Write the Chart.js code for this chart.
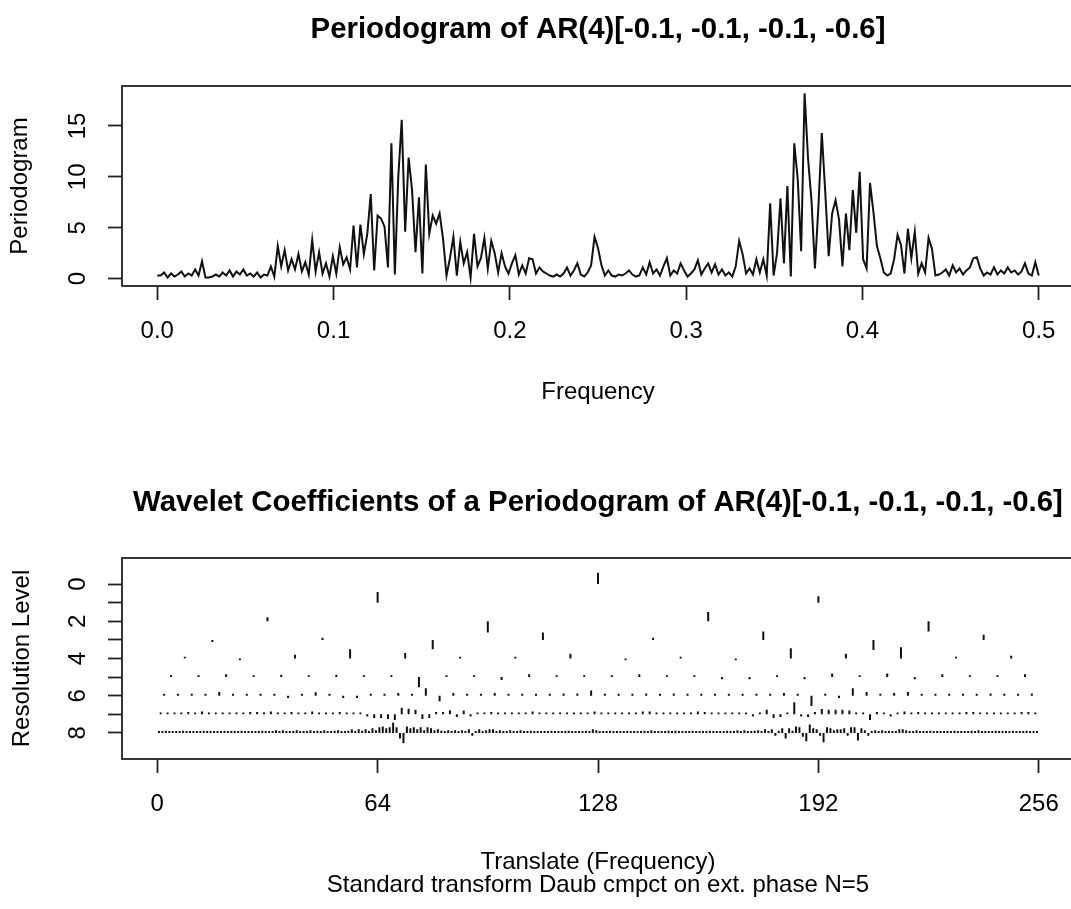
<!DOCTYPE html>
<html><head><meta charset="utf-8">
<script src="https://cdn.jsdelivr.net/npm/chart.js@4.4.0/dist/chart.umd.min.js"></script>
<style>
html,body{margin:0;padding:0;background:#fff;overflow:hidden;width:1071px;height:909px;}
#top{position:absolute;left:0;top:0;width:1080px;height:450px;}
#bot{position:absolute;left:0;top:450px;width:1080px;height:459px;}
</style></head><body>
<div id="top"><canvas id="c1"></canvas></div>
<div id="bot"><canvas id="c2"></canvas></div>
<script>
// ---- Periodogram (frequency 0 .. 0.5, step 1/512) ----
const periodogram = [0.3,
0.3,0.6,0.1,0.5,0.2,0.4,0.7,0.2,0.5,0.3,0.9,0.3,1.7,0.1,0.1,0.2,
0.4,0.2,0.6,0.3,0.8,0.2,0.7,0.4,0.9,0.3,0.5,0.2,0.6,0.1,0.4,0.3,
1.2,0.2,3.2,1.2,2.8,0.8,1.9,0.9,2.4,0.7,1.6,0.4,3.8,0.7,2.6,0.5,
1.5,0.2,2.2,0.5,3.1,1.4,2.1,0.9,5.2,1.1,5.3,2.4,4.4,8.3,0.8,6.2,
5.9,5.1,1.1,13.3,0.4,10.0,15.6,4.6,11.9,8.7,2.6,8.0,0.5,11.2,4.4,6.2,
5.4,6.4,3.9,0.3,2.0,4.1,0.3,3.6,1.5,2.6,0.1,4.4,1.2,2.0,4.0,1.0,
3.7,2.5,0.6,2.5,1.2,0.5,1.5,2.3,0.4,1.3,0.5,2.0,1.9,0.5,1.1,0.7,
0.5,0.3,0.2,0.4,0.2,0.5,1.1,0.3,0.8,1.5,0.4,0.2,0.6,1.3,4.1,3.0,
1.3,0.3,0.8,0.3,0.2,0.4,0.3,0.5,0.8,0.4,0.2,0.3,1.1,0.4,1.6,0.5,
0.9,0.3,1.2,2.0,0.3,0.8,0.5,1.5,0.8,0.2,0.5,0.9,1.8,0.4,1.0,1.5,
0.6,1.4,0.4,0.9,0.3,0.6,0.2,1.2,3.7,2.4,0.5,1.0,0.4,1.9,0.6,1.9,
0.3,7.4,0.3,2.5,7.9,1.5,9.1,0.2,13.3,9.8,2.7,18.2,11.8,7.7,1.0,7.0,
14.3,8.5,2.2,6.4,7.7,5.8,1.2,6.4,2.8,8.7,4.5,10.5,1.9,1.0,9.4,6.5,
3.2,2.0,0.6,0.3,0.5,1.9,4.3,3.3,0.5,4.9,2.0,4.6,0.5,1.5,0.6,4.0,
2.9,0.3,0.4,0.6,0.9,0.3,1.3,0.6,1.0,0.4,0.8,1.1,2.0,2.1,1.0,0.3,
0.6,0.4,1.1,0.4,0.8,0.5,1.1,0.6,0.8,0.4,0.7,1.5,0.5,0.3,1.6,0.3];
const frequency = periodogram.map((_, i) => i / 512);
const freqTicks = [0, 0.1, 0.2, 0.3, 0.4, 0.5];
const periodogramTicks = [0, 5, 10, 15];

// ---- Wavelet coefficients (drawn length, in resolution-level units; + = upward) ----
const level0 = [0.6];
const level1 = [0.57, 0.35];
const level2 = [0.22, -0.6, 0.5, -0.55];
const level3 = [-0.12, 0.12, -0.5, 0.4, 0.12, 0.45, -0.55, 0.27];
const level4 = [0.1,-0.1,0.2,0.5,0.3,0.1,0.1,0.25,-0.1,0.1,-0.1,0.55,0.25,0.6,0.1,0.15];
const level5 = [0.1,0.1,0.15,0.1,0.12,0.1,0.12,0.1,0.1,-0.55,0.1,0.1,-0.15,0.15,0.1,0.1,
0.1,0.15,0.1,0.1,-0.12,-0.12,0.1,-0.12,0.2,0.1,0.2,-0.12,0.15,0.1,0.1,0.15];
const level6 = [0.1,0.1,0.1,0.1,0.2,0.1,0.1,0.1,0.1,-0.12,0.1,0.18,0.1,-0.12,-0.12,0.1,
0.1,0.15,0.1,0.4,-0.3,0.15,0.1,0.1,0.15,0.1,0.1,0.1,0.1,0.12,0.12,0.28,
0.1,0.1,0.1,0.12,0.1,0.12,0.1,0.1,0.1,0.1,0.1,0.1,0.1,0.15,0.1,-0.55,
0.1,-0.12,0.4,0.2,0.1,0.15,0.2,0.1,0.1,0.1,0.1,0.1,0.12,0.1,0.1,0.12];
const level7 = [0.1,0.1,0.1,0.1,0.12,0.1,0.15,0.1,0.1,0.1,0.1,0.1,0.1,0.12,0.12,0.1,
0.15,0.1,0.1,0.12,0.1,0.1,0.15,0.1,0.1,0.1,0.12,0.1,0.1,0.1,-0.12,-0.2,
-0.2,-0.25,-0.3,0.35,0.3,0.25,-0.25,-0.2,0.12,0.12,0.22,-0.15,0.2,-0.12,0.1,0.1,
0.12,0.1,0.1,0.1,0.1,0.1,0.15,0.1,0.1,0.1,0.1,0.1,0.1,0.1,0.1,0.15,
0.1,0.1,0.1,0.1,0.1,0.1,0.15,0.15,0.1,0.1,0.1,0.1,0.1,0.1,0.15,0.12,
0.1,0.1,0.1,0.1,0.1,0.1,-0.12,0.1,0.25,-0.2,-0.15,0.1,0.65,-0.12,-0.15,0.12,
0.28,0.25,0.25,0.25,0.2,0.1,0.1,-0.3,0.12,0.1,-0.12,0.1,0.15,0.1,0.12,0.1,
0.1,0.1,0.1,0.1,0.1,0.12,0.12,0.1,0.1,0.1,0.1,0.1,0.1,0.12,0.12,0.1];
const level8 = [0.1,0.1,0.12,0.1,0.1,0.1,0.1,0.12,0.1,0.1,0.1,0.1,0.1,0.12,0.1,0.1,
0.1,0.1,0.1,0.12,0.1,0.1,0.1,0.1,0.12,0.1,0.1,0.1,0.1,0.1,0.12,0.1,
0.1,0.1,0.15,0.1,0.15,0.1,0.1,0.1,0.15,0.1,0.1,0.1,0.15,0.1,0.12,0.1,
0.15,0.1,0.1,0.12,0.15,0.1,0.1,0.12,0.2,0.1,0.2,0.12,0.2,0.1,0.25,0.15,
0.3,0.35,0.25,0.3,0.55,0.3,-0.3,-0.55,0.35,0.25,0.3,0.2,0.3,0.15,0.3,0.25,
0.15,0.2,0.12,0.1,0.15,0.1,0.15,0.1,0.15,0.1,0.2,-0.15,0.1,0.2,0.1,0.15,
0.2,0.2,0.1,0.15,0.1,0.1,0.15,0.1,0.1,0.15,0.1,0.1,0.12,0.1,0.1,0.1,
0.1,0.1,0.12,0.1,0.1,0.1,0.1,0.12,0.1,0.1,0.1,0.1,0.12,0.1,0.2,0.15,
0.1,0.1,0.1,0.12,0.1,0.1,0.1,0.1,0.12,0.1,0.1,0.1,0.1,0.12,0.1,0.15,
0.1,0.1,0.1,0.1,0.12,0.1,0.12,0.1,0.1,0.1,0.1,0.12,0.1,0.1,0.1,0.1,
0.12,0.1,0.1,0.1,0.1,0.12,0.1,0.1,0.15,0.1,0.15,0.1,0.1,0.12,0.15,0.1,
0.2,0.1,0.2,-0.15,0.12,0.25,-0.3,0.25,0.12,0.35,0.3,-0.2,-0.45,0.45,0.25,0.2,
-0.15,-0.5,0.3,0.25,0.15,0.2,0.2,0.25,-0.15,0.3,0.3,-0.4,0.25,0.15,-0.15,0.1,
0.15,0.1,0.15,0.1,0.12,0.1,0.1,0.2,0.2,0.15,0.1,0.1,0.15,0.1,0.1,0.1,
0.12,0.1,0.1,0.1,0.1,0.1,0.1,0.12,0.1,0.1,0.1,0.1,0.12,0.1,0.15,0.1,
0.1,0.1,0.1,0.12,0.1,0.1,0.1,0.1,0.12,0.1,0.1,0.1,0.12,0.1,0.1,0.1];
const levels = [level0, level1, level2, level3, level4, level5, level6, level7, level8];
const translateTicks = [0, 64, 128, 192, 256];
const levelTicks = [0, 1, 2, 3, 4, 5, 6, 7, 8];

const FONT = "'Liberation Sans', Arial, Helvetica, sans-serif";
const BLACK = '#000';
const AXIS_SIZE = 24;
const TITLE_SIZE = 29.4;

const boxPlugin = {
  id: 'rbox',
  afterDatasetsDraw(chart) {
    const { ctx, chartArea: a } = chart;
    ctx.save();
    ctx.strokeStyle = '#222';
    ctx.lineWidth = 1.8;
    ctx.strokeRect(a.left, a.top, a.right - a.left, a.bottom - a.top);
    ctx.restore();
  }
};

function gridOpts() {
  return { display: true, drawOnChartArea: false, drawTicks: true, tickLength: 14,
           tickColor: '#222', tickWidth: 1.8 };
}

// ---------- Top chart ----------
new Chart(document.getElementById('c1'), {
  type: 'scatter',
  data: {
    datasets: [{
      label: 'Periodogram',
      data: periodogram.map((v, i) => ({ x: frequency[i], y: v })),
      showLine: true, borderColor: '#111', borderWidth: 2, pointRadius: 0,
      tension: 0, fill: false
    }]
  },
  options: {
    responsive: true, maintainAspectRatio: false, animation: false, devicePixelRatio: 1,
    layout: { padding: { left: 0, right: 6, top: 0, bottom: 0 } },
    plugins: {
      legend: { display: false }, tooltip: { enabled: false },
      title: { display: true, fullSize: false, text: 'Periodogram of AR(4)[-0.1, -0.1, -0.1, -0.6]',
               color: BLACK, font: { family: FONT, size: TITLE_SIZE, weight: 'bold', lineHeight: 1.2 },
               padding: { top: 12.4, bottom: 38.3 } }
    },
    scales: {
      x: {
        type: 'linear', min: -0.02, max: 0.52,
        afterBuildTicks: s => { s.ticks = freqTicks.map(v => ({ value: v })); },
        afterFit: s => { s.height = 164; },
        grid: gridOpts(), border: { display: false },
        ticks: { color: BLACK, font: { family: FONT, size: AXIS_SIZE }, padding: 16.5, maxRotation: 0,
                 autoSkip: false, callback: v => Number(v).toFixed(1) },
        title: { display: true, text: 'Frequency', color: BLACK,
                 font: { family: FONT, size: AXIS_SIZE, lineHeight: 1.2 }, padding: { top: 0, bottom: 43.6 } }
      },
      y: {
        type: 'linear', min: -0.728, max: 18.93,
        afterBuildTicks: s => { s.ticks = periodogramTicks.map(v => ({ value: v })); },
        afterFit: s => { s.width = 122; },
        grid: gridOpts(), border: { display: false },
        ticks: { color: BLACK, font: { family: FONT, size: AXIS_SIZE }, minRotation: 90, maxRotation: 90,
                 crossAlign: 'center', padding: 16.5, autoSkip: false },
        title: { display: true, text: 'Periodogram', color: BLACK,
                 font: { family: FONT, size: AXIS_SIZE, lineHeight: 1.2 }, padding: { top: 6, bottom: 0 } }
      }
    }
  },
  plugins: [boxPlugin]
});

// ---------- Bottom chart ----------
const waveletDatasets = levels.map((coefs, j) => {
  const n = coefs.length;
  const pts = [];
  coefs.forEach((c, k) => {
    const x = (k + 0.5) * 256 / n;
    pts.push({ x: x, y: j }, { x: x, y: j - c }, { x: x, y: null });
  });
  return { label: 'Level ' + j, data: pts, showLine: true, spanGaps: false,
           borderColor: '#111', borderWidth: 2, borderCapStyle: 'butt', pointRadius: 0, tension: 0 };
});

new Chart(document.getElementById('c2'), {
  type: 'scatter',
  data: { datasets: waveletDatasets },
  options: {
    responsive: true, maintainAspectRatio: false, animation: false, devicePixelRatio: 1,
    layout: { padding: { left: 0, right: 6, top: 0, bottom: 0 } },
    plugins: {
      legend: { display: false }, tooltip: { enabled: false },
      title: { display: true, fullSize: false,
               text: 'Wavelet Coefficients of a Periodogram of AR(4)[-0.1, -0.1, -0.1, -0.6]',
               color: BLACK, font: { family: FONT, size: TITLE_SIZE, weight: 'bold', lineHeight: 1.2 },
               padding: { top: 35.4, bottom: 37.3 } }
    },
    scales: {
      x: {
        type: 'linear', min: -10.24, max: 266.24,
        afterBuildTicks: s => { s.ticks = translateTicks.map(v => ({ value: v })); },
        afterFit: s => { s.height = 150; },
        grid: gridOpts(), border: { display: false },
        ticks: { color: BLACK, font: { family: FONT, size: AXIS_SIZE }, padding: 16.5, maxRotation: 0, autoSkip: false },
        title: { display: true, text: ['Translate (Frequency)', 'Standard transform Daub cmpct on ext. phase N=5'],
                 color: BLACK, font: { family: FONT, size: AXIS_SIZE, lineHeight: 0.96 }, padding: { top: 0, bottom: 12.5 } }
      },
      y: {
        type: 'linear', reverse: true, min: -1.4, max: 9.4,
        afterBuildTicks: s => { s.ticks = levelTicks.map(v => ({ value: v })); },
        afterFit: s => { s.width = 122; },
        grid: gridOpts(), border: { display: false },
        ticks: { color: BLACK, font: { family: FONT, size: AXIS_SIZE }, minRotation: 90, maxRotation: 90,
                 crossAlign: 'center', padding: 23, autoSkip: false,
                 callback: v => (v % 2 === 0 ? String(v) : '') },
        title: { display: true, text: 'Resolution Level', color: BLACK,
                 font: { family: FONT, size: AXIS_SIZE, lineHeight: 1.2 }, padding: { top: 7.6, bottom: 0 } }
      }
    }
  },
  plugins: [boxPlugin]
});
</script></body></html>
